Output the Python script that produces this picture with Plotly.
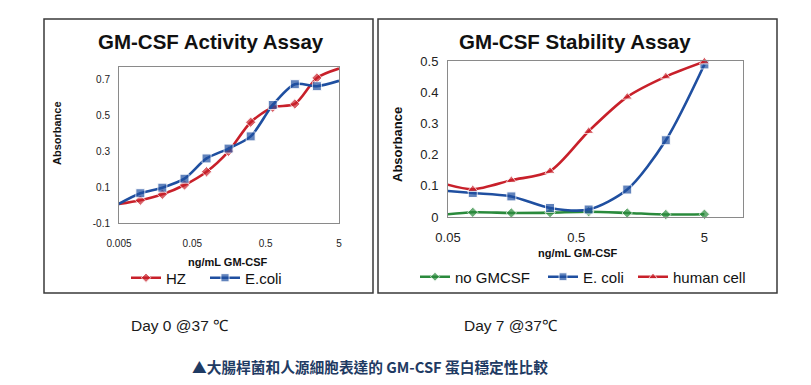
import plotly.graph_objects as go

# ---- data: Day 0 activity assay ----
act_conc = [0.00488, 0.00977, 0.0195, 0.0391, 0.0781, 0.156, 0.3125, 0.625, 1.25, 2.5, 5.0]
act_hz = [0.005, 0.027, 0.060, 0.112, 0.186, 0.300, 0.462, 0.545, 0.564, 0.709, 0.761]
act_ecoli = [0.005, 0.066, 0.097, 0.147, 0.260, 0.315, 0.383, 0.558, 0.674, 0.663, 0.693]

# ---- data: Day 7 stability assay ----
stab_conc = [0.039, 0.078, 0.156, 0.3125, 0.625, 1.25, 2.5, 5.0]
stab_none = [0.004, 0.015, 0.013, 0.014, 0.017, 0.013, 0.008, 0.009]
stab_ecoli = [0.087, 0.077, 0.066, 0.029, 0.024, 0.088, 0.246, 0.489]
stab_human = [0.116, 0.089, 0.118, 0.147, 0.275, 0.385, 0.450, 0.498]

act_xticks = [0.005, 0.05, 0.5, 5]
act_xtext = ["0.005", "0.05", "0.5", "5"]
act_yticks = [-0.1, 0.1, 0.3, 0.5, 0.7]
act_ytext = ["-0.1", "0.1", "0.3", "0.5", "0.7"]
stab_xticks = [0.05, 0.5, 5]
stab_xtext = ["0.05", "0.5", "5"]
stab_yticks = [0, 0.1, 0.2, 0.3, 0.4, 0.5]
stab_ytext = ["0", "0.1", "0.2", "0.3", "0.4", "0.5"]

# page is 811x385; the html body has an 8px margin, so the figure is inset
OFF = 8
W, H = 811 - 2 * OFF, 385 - 2 * OFF
def px(x): return (x - OFF) / W
def py(y): return 1 - (y - OFF) / H

RED = "#C8202A"
BLUE = "#1F4FA0"
GREEN = "#2A8A3C"
FONT = "Arial, Liberation Sans, sans-serif"

fig = go.Figure()

def sizes(n, s, hide_first=True):
    return [0 if (i == 0 and hide_first) else s for i in range(n)]

def series(x, y, name, color, symbol, msize, xa, ya, leg):
    fig.add_trace(go.Scatter(x=x, y=y, name=name, mode="lines+markers",
                             line=dict(color=color, width=2.6, shape="spline", smoothing=0.8),
                             marker=dict(symbol=symbol, size=sizes(len(x), msize), color=color),
                             cliponaxis=False, xaxis=xa, yaxis=ya, legend=leg))

series(act_conc, act_hz, "HZ", RED, "diamond", 8, "x", "y", "legend")
series(act_conc, act_ecoli, "E.coli", BLUE, "square", 9, "x", "y", "legend2")
series(stab_conc, stab_none, "no GMCSF", GREEN, "diamond", 8, "x2", "y2", "legend3")
series(stab_conc, stab_ecoli, "E. coli", BLUE, "square", 9, "x2", "y2", "legend4")
series(stab_conc, stab_human, "human cell", RED, "triangle-up", 9, "x2", "y2", "legend5")

axis_common = dict(showgrid=False, zeroline=False, showline=True, mirror=True,
                   linecolor="#8a8a8a", linewidth=1, ticks="", color="#222", automargin=False)

def leg(text_x, y):
    return dict(orientation="h", x=px(text_x - 40), y=py(y), xanchor="left", yanchor="middle",
                font=dict(size=15, color="#111"), bgcolor="rgba(0,0,0,0)", itemclick=False)

fig.update_layout(
    width=W, height=H, margin=dict(l=0, r=0, t=0, b=0, autoexpand=False),
    paper_bgcolor="white", plot_bgcolor="white",
    font=dict(family=FONT, color="#222"),
    xaxis=dict(axis_common, type="log", domain=[px(119), px(339)],
               range=[-2.30103, 0.69897], tickvals=act_xticks, ticktext=act_xtext,
               tickfont=dict(size=10), ticklabelstandoff=11, anchor="y"),
    yaxis=dict(axis_common, domain=[py(223), py(67)], range=[-0.1, 0.77],
               tickvals=act_yticks, ticktext=act_ytext, tickfont=dict(size=10),
               ticklabelstandoff=6, anchor="x"),
    xaxis2=dict(axis_common, type="log", domain=[px(448), px(743)],
                range=[-1.30103, 1.0], tickvals=stab_xticks, ticktext=stab_xtext,
                tickfont=dict(size=13), ticklabelstandoff=8, anchor="y2"),
    yaxis2=dict(axis_common, domain=[py(217), py(61)], range=[0, 0.5],
                tickvals=stab_yticks, ticktext=stab_ytext, tickfont=dict(size=13),
                ticklabelstandoff=6, anchor="x2"),
    legend=leg(166, 278),
    legend2=leg(245, 278),
    legend3=leg(455, 277),
    legend4=leg(583, 277),
    legend5=leg(673, 277),
    showlegend=True,
)

shapes = [
    dict(type="rect", xref="paper", yref="paper", x0=px(44), x1=px(373), y0=py(293), y1=py(19),
         line=dict(color="#3a3a3a", width=1.5)),
    dict(type="rect", xref="paper", yref="paper", x0=px(378), x1=px(777), y0=py(293), y1=py(19),
         line=dict(color="#3a3a3a", width=1.5)),
]
fig.update_layout(shapes=shapes)

ann = []
def add(text, x, y, size, bold=False, color="#111", angle=0, family=FONT, xanchor="center"):
    t = f"<b>{text}</b>" if bold else text
    ann.append(dict(text=t, x=px(x), y=py(y), xref="paper", yref="paper", showarrow=False,
                    font=dict(size=size, color=color, family=family), textangle=angle,
                    xanchor=xanchor, yanchor="middle"))

add("GM-CSF Activity Assay", 211, 41, 20.5, bold=True)
add("GM-CSF Stability Assay", 575, 41, 20.5, bold=True)
add("Absorbance", 57, 133, 11, bold=True, angle=-90)
add("Absorbance", 397, 145, 13, bold=True, angle=-90)
add("ng/mL GM-CSF", 228, 262, 11, bold=True)
add("ng/mL GM-CSF", 578, 253, 11, bold=True)
add("Day 0 @37 ℃", 180, 325, 15.5, color="#1a1a1a")
add("Day 7 @37℃", 511, 325, 15.5, color="#1a1a1a")
add("▲大腸桿菌和人源細胞表達的 GM-CSF 蛋白穩定性比較", 370, 366, 14.7, bold=True,
    color="#1F3B63", family="Noto Sans CJK TC, Noto Sans, sans-serif")
fig.update_layout(annotations=ann)

fig.write_html("out.html")
